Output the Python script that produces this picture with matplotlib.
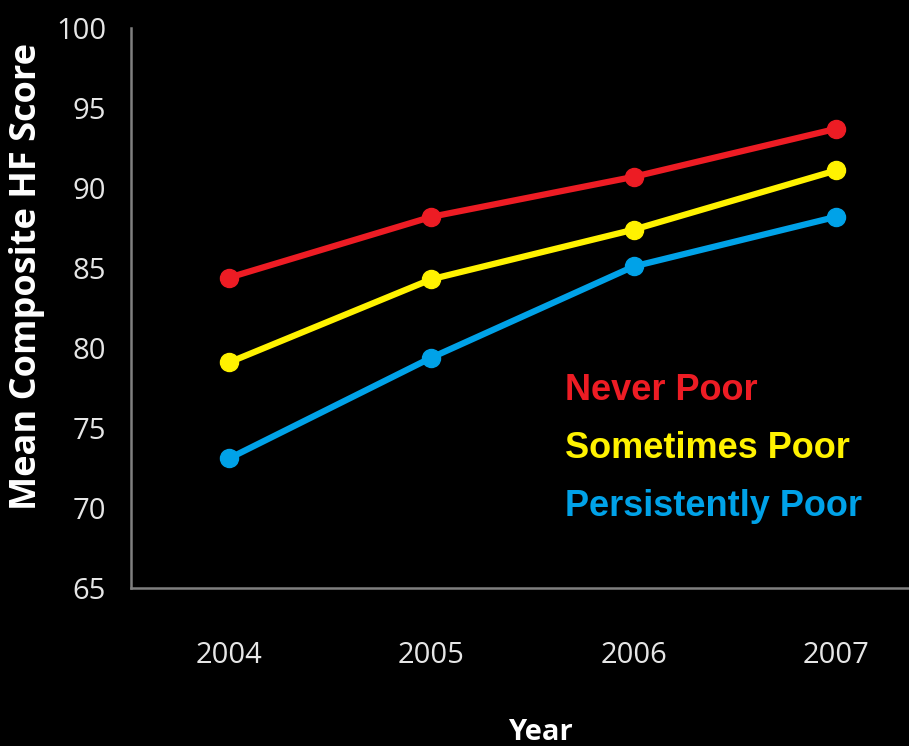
import matplotlib
matplotlib.use("Agg")
import matplotlib.pyplot as plt

years = ["2004", "2005", "2006", "2007"]
never_poor = [84.4, 88.2, 90.7, 93.7]
sometimes_poor = [79.1, 84.3, 87.4, 91.1]
persistently_poor = [73.1, 79.4, 85.1, 88.2]
series_names = ["Never Poor", "Sometimes Poor", "Persistently Poor"]
series_colors = ["#ED1C24", "#FFF200", "#00A2E8"]
y_ticks = [65, 70, 75, 80, 85, 90, 95, 100]

fig = plt.figure(figsize=(9.09, 7.46), dpi=100, facecolor="black")
ax = fig.add_axes([131 / 909, 1 - 588 / 746, 1 - 131 / 909, (588 - 28) / 746])
ax.set_facecolor("black")

x = list(range(len(years)))
for vals, col in zip([never_poor, sometimes_poor, persistently_poor], series_colors):
    ax.plot(x, vals, color=col, lw=4.5, marker="o", ms=13, mec=col, mfc=col,
            solid_capstyle="round", clip_on=False, zorder=3)

ax.set_xlim(-0.485, 3.36)
ax.set_ylim(65, 100)
ax.set_xticks(x)
ax.set_xticklabels(years)
ax.set_yticks(y_ticks)

for lab in ax.get_xticklabels() + ax.get_yticklabels():
    lab.set_fontfamily("Open Sans")
    lab.set_fontsize(21)
    lab.set_color("#E6E6E6")
ax.tick_params(axis="both", length=0)
ax.tick_params(axis="y", pad=18)
ax.tick_params(axis="x", pad=38)

for side in ["top", "right"]:
    ax.spines[side].set_visible(False)
for side in ["left", "bottom"]:
    ax.spines[side].set_color("#7F7F7F")
    ax.spines[side].set_linewidth(1.8)

fig.text(27 / 909, 1 - 276 / 746, "Mean Composite HF Score", rotation=90,
         ha="center", va="center", color="white", fontsize=26,
         fontweight="bold", family="Open Sans")
fig.text(540 / 909, 1 - 733 / 746, "Year", ha="center", va="center",
         color="white", fontsize=21, fontweight="bold", family="Open Sans")

label_y = [390, 449, 507]
for name, col, yy in zip(series_names, series_colors, label_y):
    fig.text(565 / 909, 1 - yy / 746, name, ha="left", va="center", color=col,
             fontsize=26, fontweight="bold", family="Liberation Sans")

fig.savefig("out.png", dpi=100, facecolor="black")
